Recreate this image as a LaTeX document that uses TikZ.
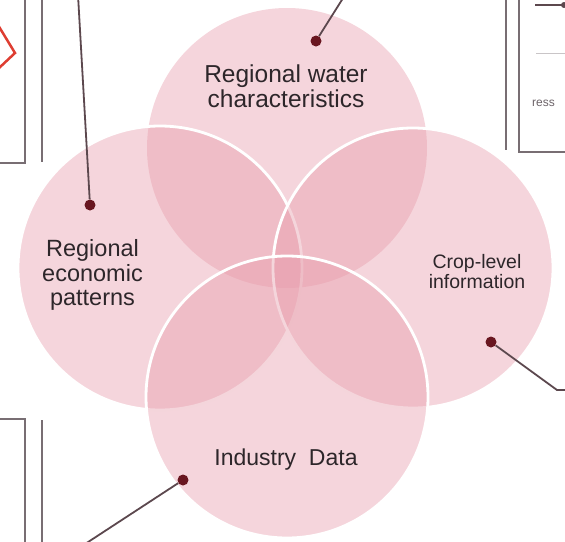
\documentclass[tikz,border=0pt]{standalone}
\usepackage{fontspec}
\setmainfont{Liberation Sans}
\definecolor{petal}{RGB}{231,156,171}
\definecolor{pin}{RGB}{105,22,32}
\definecolor{leader}{RGB}{92,72,78}
\definecolor{frame}{RGB}{120,110,115}
\definecolor{ink}{RGB}{45,38,42}
\definecolor{flag}{RGB}{222,62,50}
\begin{document}
\begin{tikzpicture}[x=1pt,y=-1pt,
  petalfill/.style={fill=petal,fill opacity=0.42},
  petalrim/.style={draw=white,line width=2.8pt},
  pinhead/.style={circle,fill=pin,inner sep=0pt,minimum size=11pt},
  leaderline/.style={draw=leader,line width=1.8pt},
  framebox/.style={draw=frame,line width=1.8pt},
  lbl/.style={text=ink,align=center,inner sep=0pt}]
\useasboundingbox (0,0) rectangle (565,541);
\clip (0,0) rectangle (565,541);

% neighbouring panels, cut off at the edges
\draw[framebox] (-20,-20) rectangle (25,163);
\draw[framebox] (42,-20) -- (42,162);
\draw[flag,line width=2.5pt,line join=miter] (-2,25) -- (15,53) -- (-2,69);
\draw[framebox] (-20,419) rectangle (25,560);
\draw[framebox] (42,420) -- (42,560);
\draw[framebox] (506,-20) -- (506,150);
\draw[framebox] (519,-20) rectangle (600,152);
\draw[leader,line width=1.5pt] (535,5) -- (565,5);
\fill[leader] (564,5) circle[radius=3pt];
\draw[frame!40,line width=1pt] (536,53) -- (565,53);
\node[text=frame!90!black,font=\fontsize{12}{13}\selectfont,anchor=west,inner sep=0pt] (frag) at (532,103) {ress};

% four overlapping petals
\fill[petalfill] (287,148) circle[radius=140pt];
\fill[petalfill] (160,268) circle[radius=142pt];
\draw[petalrim] (160,268) circle[radius=142pt];
\fill[petalfill] (413,268) circle[radius=140pt];
\draw[petalrim] (413,268) circle[radius=140pt];
\fill[petalfill] (287,397) circle[radius=141pt];
\draw[petalrim] (287,397) circle[radius=141pt];

% labels
\node[lbl,font=\fontsize{24.5}{25}\selectfont] (water) at (286,86.5) {Regional water\\characteristics};
\node[lbl,font=\fontsize{23.5}{24.5}\selectfont] (econ) at (92.5,275) {Regional\\economic\\patterns};
\node[lbl,font=\fontsize{19.5}{20}\selectfont] (crop) at (477,271.5) {Crop-level\\information};
\node[lbl,font=\fontsize{23}{24}\selectfont] (ind) at (286,460) {Industry\ \ Data};

% pins and leader lines
\node[pinhead] (pw) at (316,41) {};
\node[pinhead] (pe) at (90,205) {};
\node[pinhead] (pc) at (491,342) {};
\node[pinhead] (pi) at (183,480) {};
\coordinate (ew) at (345,-5);
\coordinate (ee) at (78,-5);
\coordinate (ec1) at (557,390);
\coordinate (ec2) at (570,390);
\coordinate (ei) at (82,546);
\draw[leaderline] (pw) -- (ew);
\draw[leaderline] (pe) -- (ee);
\draw[leaderline] (pc) -- (ec1) -- (ec2);
\draw[leaderline] (pi) -- (ei);
\end{tikzpicture}
\end{document}
